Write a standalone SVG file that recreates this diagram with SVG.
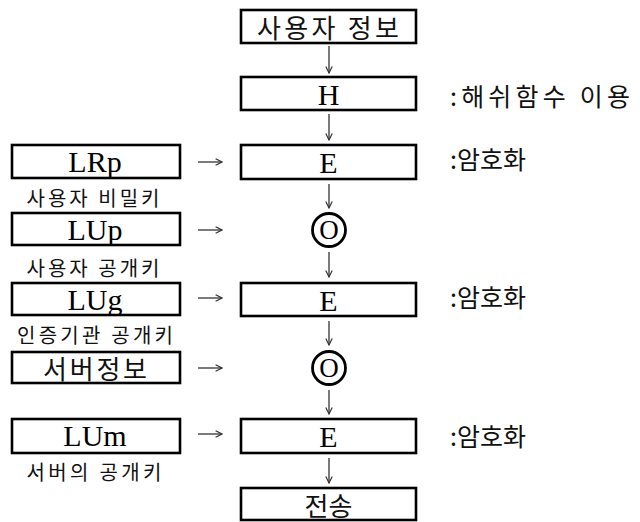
<svg xmlns="http://www.w3.org/2000/svg" width="640" height="522" viewBox="0 0 640 522">
<defs>
<style>
.box{fill:#fff;stroke:#000;stroke-width:2.6}
.circ{fill:#fff;stroke:#000;stroke-width:2.8}
.lat{font-family:"Liberation Serif","Times New Roman",serif;font-size:30px;fill:#000;text-anchor:middle;dominant-baseline:central}
.kor{font-family:"Noto Sans CJK KR","Noto Sans",sans-serif;font-size:26px;fill:#111;text-anchor:middle;dominant-baseline:central}
.lbl{font-family:"Noto Sans CJK KR","Noto Sans",sans-serif;font-size:20px;fill:#111;text-anchor:middle;dominant-baseline:central}
.note{font-family:"Noto Sans CJK KR","Noto Sans",sans-serif;font-size:25px;fill:#111;dominant-baseline:central}
.arr{stroke:#333;stroke-width:1.3;fill:none;marker-end:url(#ah)}
</style>
<marker id="ah" viewBox="0 0 10 10" refX="9" refY="5" markerWidth="8" markerHeight="8" markerUnits="userSpaceOnUse" orient="auto">
<path d="M1,1 L9,5 L1,9" fill="none" stroke="#333" stroke-width="1.5"/>
</marker>
</defs>

<g id="connectors">
<line class="arr" x1="329" y1="46" x2="329" y2="73"/>
<line class="arr" x1="329" y1="114" x2="329" y2="140"/>
<line class="arr" x1="329" y1="184" x2="329" y2="208"/>
<line class="arr" x1="329" y1="252" x2="329" y2="277"/>
<line class="arr" x1="329" y1="321" x2="329" y2="345"/>
<line class="arr" x1="329" y1="390" x2="329" y2="414"/>
<line class="arr" x1="329" y1="458" x2="329" y2="483"/>
<line class="arr" x1="198" y1="162" x2="222" y2="162"/>
<line class="arr" x1="198" y1="230" x2="222" y2="230"/>
<line class="arr" x1="198" y1="298" x2="222" y2="298"/>
<line class="arr" x1="198" y1="368" x2="222" y2="368"/>
<line class="arr" x1="198" y1="434" x2="222" y2="434"/>
</g>

<g id="user-info">
<rect class="box" x="241" y="10" width="175" height="33"/>
<text class="kor" x="328" y="26.5" textLength="142" lengthAdjust="spacing">사용자 정보</text>
</g>
<g id="hash">
<rect class="box" x="241" y="77" width="175" height="33"/>
<text class="lat" x="328.5" y="94">H</text>
<text class="note" x="450" y="95" textLength="180" lengthAdjust="spacing">:해쉬함수 이용</text>
</g>
<g id="enc1">
<rect class="box" x="241" y="145" width="175" height="34"/>
<text class="lat" x="328.5" y="162">E</text>
<text class="note" x="450" y="158">:암호화</text>
</g>
<g id="xor1">
<circle class="circ" cx="329" cy="230" r="16.5"/>
<text class="lat" x="329" y="230" style="font-size:27px">O</text>
</g>
<g id="enc2">
<rect class="box" x="241" y="283" width="175" height="33"/>
<text class="lat" x="328.5" y="300">E</text>
<text class="note" x="450" y="296">:암호화</text>
</g>
<g id="xor2">
<circle class="circ" cx="329" cy="368" r="16.5"/>
<text class="lat" x="329" y="368" style="font-size:27px">O</text>
</g>
<g id="enc3">
<rect class="box" x="241" y="419" width="175" height="34"/>
<text class="lat" x="328.5" y="436">E</text>
<text class="note" x="450" y="435">:암호화</text>
</g>
<g id="send">
<rect class="box" x="241" y="488" width="175" height="32"/>
<text class="kor" x="328.5" y="504">전송</text>
</g>

<g id="LRp">
<rect class="box" x="12" y="145" width="168" height="33"/>
<text class="lat" x="95" y="161">LRp</text>
<text class="lbl" x="93" y="197" textLength="133" lengthAdjust="spacing">사용자 비밀키</text>
</g>
<g id="LUp">
<rect class="box" x="12" y="213" width="168" height="32"/>
<text class="lat" x="95" y="229">LUp</text>
<text class="lbl" x="93" y="267" textLength="133" lengthAdjust="spacing">사용자 공개키</text>
</g>
<g id="LUg">
<rect class="box" x="12" y="283" width="168" height="32"/>
<text class="lat" x="95" y="299">LUg</text>
<text class="lbl" x="95" y="334" textLength="156" lengthAdjust="spacing">인증기관 공개키</text>
</g>
<g id="server-info">
<rect class="box" x="12" y="352" width="168" height="31"/>
<text class="kor" x="95" y="367.5" textLength="104" lengthAdjust="spacing">서버정보</text>
</g>
<g id="LUm">
<rect class="box" x="12" y="419" width="168" height="34"/>
<text class="lat" x="95" y="435">LUm</text>
<text class="lbl" x="94" y="471" textLength="135" lengthAdjust="spacing">서버의 공개키</text>
</g>
</svg>
